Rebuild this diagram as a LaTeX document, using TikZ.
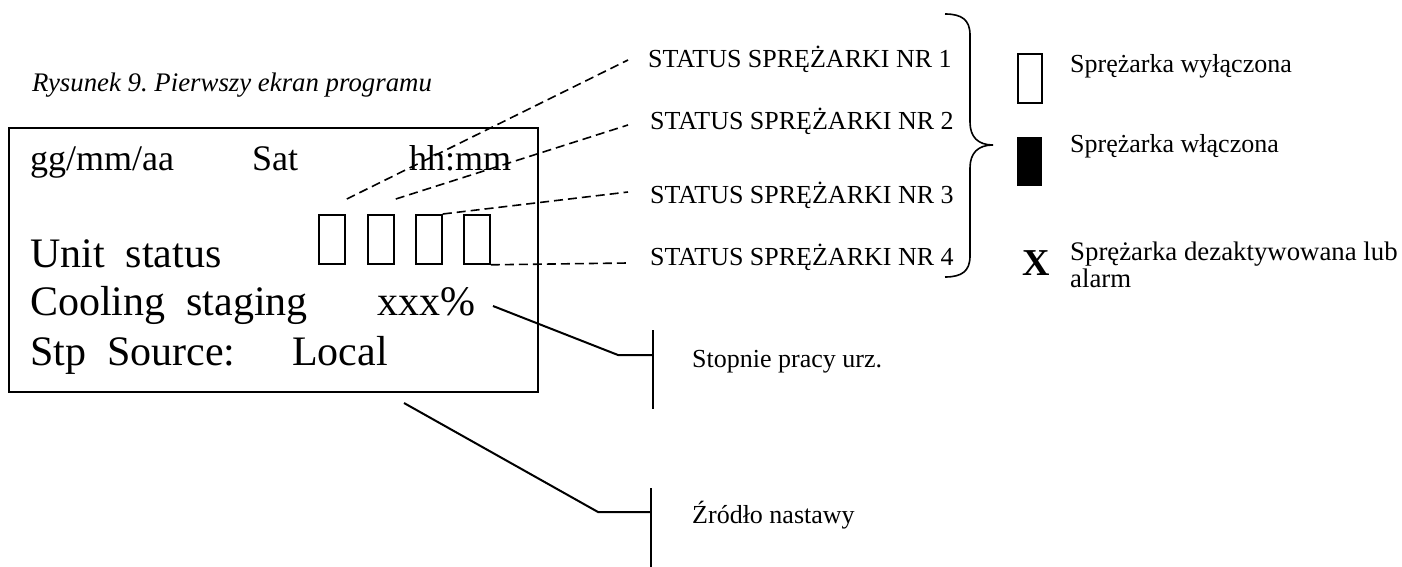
\documentclass[tikz,border=0pt]{standalone}
\usepackage{fontspec}
\setmainfont{Liberation Serif}
\usetikzlibrary{calc}
\frenchspacing
\begin{document}
\begin{tikzpicture}[x=1pt,y=-1pt,
  big/.style={font=\fontsize{42}{46}\selectfont, anchor=base west, inner sep=0pt},
  top/.style={font=\fontsize{36}{40}\selectfont, anchor=base west, inner sep=0pt},
  small/.style={font=\fontsize{26}{27}\selectfont, anchor=base west, inner sep=0pt},
  caption/.style={font=\fontsize{26.8}{28}\selectfont\itshape, anchor=base west, inner sep=0pt},
  cell/.style={draw, line width=1.8pt, minimum width=26pt, minimum height=49pt, inner sep=0pt, anchor=north west},
  lead/.style={line width=1.6pt, dash pattern=on 9pt off 5pt},
  callout/.style={line width=2pt},
]
\useasboundingbox (0,0) rectangle (1402,567);

% caption
\node[caption] (cap) at (32,92) {Rysunek 9. Pierwszy ekran programu};

% display frame and its lines
\node[draw, line width=2pt, anchor=north west, inner sep=0pt,
      minimum width=529pt, minimum height=264pt] (screen) at (8,127) {};
\node[top] (date) at (30,170) {gg/mm/aa};
\node[top] (day)  at (252,170) {Sat};
\node[top] (time) at (409,170) {hh:mm};
\node[big] (unit) at (30,267) {Unit\ \ status};
\node[big] (cool) at (30,315) {Cooling\ \ staging};
\node[big] (pct)  at (377,315) {xxx\%};
\node[big] (stp)  at (30,365) {Stp\ \ Source:};
\node[big] (loc)  at (292,365) {Local};

% compressor status cells
\node[cell] (s1) at (318,214) {};
\node[cell] (s2) at (367,214) {};
\node[cell] (s3) at (415,214) {};
\node[cell] (s4) at (463,214) {};

% status labels
\node[small] (l1) at (648,68)  {STATUS SPRĘŻARKI NR 1};
\node[small] (l2) at (650,129) {STATUS SPRĘŻARKI NR 2};
\node[small] (l3) at (650,203) {STATUS SPRĘŻARKI NR 3};
\node[small] (l4) at (650,265) {STATUS SPRĘŻARKI NR 4};

% dashed leaders from cells to labels
\coordinate (a1) at ($(s1.north east)+(1,-15)$);
\coordinate (a2) at ($(s2.north east)+(1,-15)$);
\coordinate (b1) at (628,60);
\coordinate (b2) at (628,125);
\coordinate (b3) at (628,192);
\coordinate (b4) at (628,263);
\draw[lead] (a1) -- (b1);
\draw[lead] (a2) -- (b2);
\draw[lead] (s3.north east) -- (b3);
\draw[lead] (s4.south east) -- (b4);

% brace grouping the four labels
\draw[line width=1.6pt]
  (945,14) .. controls (962,14) and (970,20) .. (970,35) -- (970,122)
  .. controls (970,137) and (978,145) .. (993,145)
  .. controls (978,145) and (970,153) .. (970,168) -- (970,256)
  .. controls (970,271) and (962,277) .. (945,277);

% legend
\node[draw, line width=1.6pt, anchor=north west, inner sep=0pt,
      minimum width=24pt, minimum height=49pt] (off) at (1017,53) {};
\node[fill=black, anchor=north west, inner sep=0pt,
      minimum width=25pt, minimum height=49pt] (on) at (1017,137) {};
\node[font=\fontsize{38}{40}\selectfont\bfseries, anchor=base west, inner sep=0pt] (dis) at (1022,275) {X};
\node[small] (toff) at (1070,73)  {Sprężarka wyłączona};
\node[small] (ton)  at (1070,153) {Sprężarka włączona};
\node[small, font=\fontsize{26.8}{28}\selectfont] (tdis) at (1070,260) {Sprężarka dezaktywowana lub};
\node[small, font=\fontsize{26.8}{28}\selectfont] (tdis2) at (1070,287) {alarm};

% callout: cooling staging
\node[small] (stg) at (692,367) {Stopnie pracy urz.};
\coordinate (p1) at (493,306);
\coordinate (p2) at (618,355);
\coordinate (p3) at (653,355);
\draw[callout] (p1) -- (p2) -- (p3);
\draw[callout] (653,330) -- (653,409);

% callout: setpoint source
\node[small] (src) at (692,523) {Źródło nastawy};
\coordinate (q1) at (404,403);
\coordinate (q2) at (598,512);
\coordinate (q3) at (651,512);
\draw[callout] (q1) -- (q2) -- (q3);
\draw[callout] (651,488) -- (651,567);
\end{tikzpicture}
\end{document}
